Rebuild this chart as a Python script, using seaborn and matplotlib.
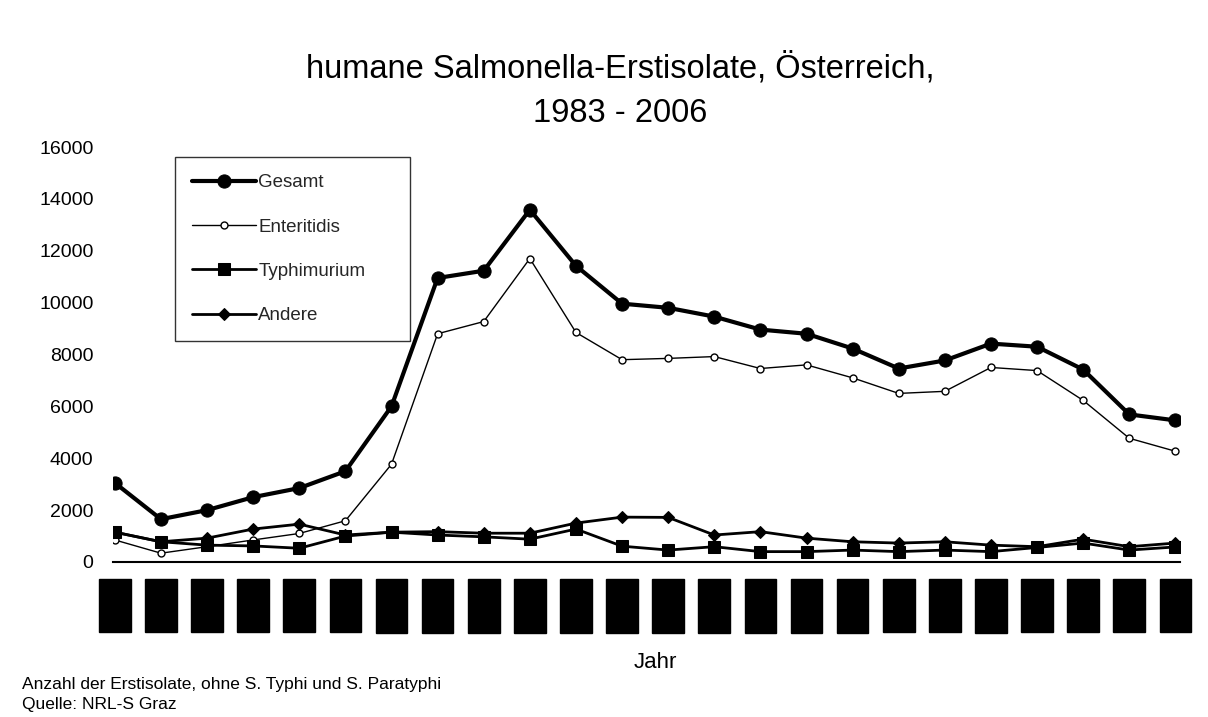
import matplotlib
matplotlib.use("Agg")
import matplotlib.pyplot as plt
import seaborn as sns
import numpy as np

years = list(range(1983, 2007))
gesamt = [3050, 1650, 2000, 2500, 2850, 3500, 6000, 10950, 11230, 13580, 11420, 9960,
          9800, 9460, 8960, 8800, 8230, 7460, 7770, 8420, 8300, 7420, 5690, 5460]
enteritidis = [850, 340, 590, 850, 1100, 1590, 3770, 8800, 9270, 11700, 8850, 7800,
               7850, 7920, 7460, 7600, 7100, 6500, 6580, 7500, 7380, 6230, 4770, 4270]
typhimurium = [1150, 780, 650, 620, 530, 1000, 1150, 1040, 970, 880, 1270, 610,
               460, 590, 400, 400, 460, 400, 460, 400, 560, 730, 460, 580]
andere = [1150, 780, 920, 1270, 1460, 1040, 1150, 1170, 1110, 1110, 1500, 1730,
          1720, 1040, 1170, 920, 780, 730, 780, 650, 590, 880, 590, 730]
yticks = [0, 2000, 4000, 6000, 8000, 10000, 12000, 14000, 16000]

sns.set_theme(style="white")
plt.rcParams['font.family'] = ['Liberation Sans', 'DejaVu Sans']

fig = plt.figure(figsize=(12.08, 7.17), dpi=100)
ax = fig.add_axes([113/1208, 1-562/717, (1180-113)/1208, (562-147)/717])

sns.lineplot(x=years, y=gesamt, ax=ax, color='black', lw=3.0, marker='o', markersize=9.5,
             markerfacecolor='black', markeredgecolor='black', label='Gesamt')
sns.lineplot(x=years, y=enteritidis, ax=ax, color='black', lw=1.0, marker='o', markersize=5,
             markerfacecolor='white', markeredgecolor='black', markeredgewidth=1.0,
             label='Enteritidis')
sns.lineplot(x=years, y=typhimurium, ax=ax, color='black', lw=2.0, marker='s', markersize=8,
             markerfacecolor='black', markeredgecolor='black', label='Typhimurium')
sns.lineplot(x=years, y=andere, ax=ax, color='black', lw=2.0, marker='D', markersize=6,
             markerfacecolor='black', markeredgecolor='black', label='Andere')

ax.set_xlim(1982.96, 2006.1)
ax.set_ylim(0, 16000)
ax.set_yticks(yticks)
ax.set_yticklabels([str(v) for v in yticks], fontsize=14)
ax.set_xticks(years)
ax.set_xticklabels([str(y) for y in years], rotation=90, fontsize=12, color='black',
                   va='top', ha='center')
for t in ax.get_xticklabels():
    t.set_bbox(dict(boxstyle='square,pad=0.5', facecolor='black', edgecolor='black'))
ax.tick_params(axis='x', direction='out', length=4, width=1, pad=14, colors='black')
ax.tick_params(axis='y', direction='in', length=4, width=1, pad=14, colors='black')
for s in ['top', 'right', 'left']:
    ax.spines[s].set_visible(False)
ax.spines['bottom'].set_color('black')
ax.spines['bottom'].set_linewidth(1.5)
ax.set_xlabel('')
ax.set_ylabel('')

leg = ax.legend(loc='upper left', bbox_to_anchor=(0.058, 0.535, 0.22, 0.44), mode='expand',
                fontsize=13.5, frameon=True, fancybox=False, edgecolor='black',
                handlelength=3.4, labelspacing=1.45, borderpad=0.9, handletextpad=0.15,
                borderaxespad=0)
leg.get_frame().set_linewidth(1.0)

fig.text(620/1208, 1-68/717, 'humane Salmonella-Erstisolate, Österreich,', ha='center',
         va='center', fontsize=23.5, color='black')
fig.text(620/1208, 1-113/717, '1983 - 2006', ha='center', va='center', fontsize=23.5,
         color='black')
fig.text(655/1208, 1-662/717, 'Jahr', ha='center', va='center', fontsize=16, color='black')
fig.text(22/1208, 1-684/717, 'Anzahl der Erstisolate, ohne S. Typhi und S. Paratyphi',
         ha='left', va='center', fontsize=12.5, color='black')
fig.text(22/1208, 1-704/717, 'Quelle: NRL-S Graz', ha='left', va='center', fontsize=12.5,
         color='black')

fig.savefig('out.png', dpi=100, facecolor='white')
